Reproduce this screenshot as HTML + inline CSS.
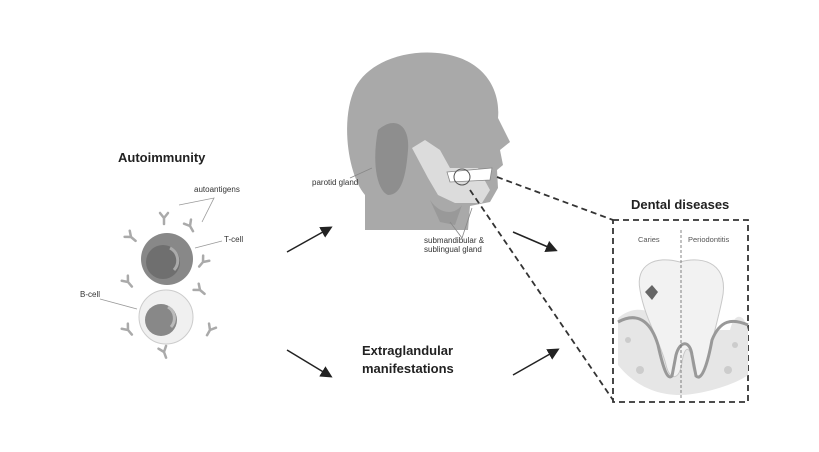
<!DOCTYPE html>
<html><head><style>body{margin:0;background:#fff}svg{display:block}</style></head><body>
<svg width="819" height="452" viewBox="0 0 819 452" xmlns="http://www.w3.org/2000/svg" font-family="Liberation Sans, sans-serif">
<defs>
<marker id="ah" markerWidth="8" markerHeight="8" refX="6" refY="4" orient="auto"><path d="M0,0 L8,4 L0,8 Z" fill="#222"/></marker>
<g id="ab" stroke="#aaa" stroke-width="2.5" fill="none" stroke-linecap="round"><path d="M0,6 L0,0 M0,0 L-4,-5 M0,0 L4,-5"/></g>
</defs>
<text x="118" y="162" font-size="13" font-weight="bold" fill="#222">Autoimmunity</text>
<text x="194" y="192" font-size="8" fill="#333">autoantigens</text>
<path d="M179,205 L214,198 L202,222" stroke="#999" fill="none" stroke-width="0.8"/>
<text x="224" y="242" font-size="8" fill="#333">T-cell</text>
<line x1="195" y1="248" x2="222" y2="241" stroke="#999" stroke-width="0.8"/>
<text x="80" y="297" font-size="8" fill="#333">B-cell</text>
<line x1="100" y1="299" x2="137" y2="309" stroke="#999" stroke-width="0.8"/>
<circle cx="167" cy="259" r="26" fill="#888"/>
<circle cx="163" cy="262" r="17" fill="#6f6f6f"/>
<path d="M170,248 a14,14 0 0 1 4,22" stroke="#aaa" stroke-width="3" fill="none"/>
<circle cx="166" cy="317" r="27" fill="#f0f0f0" stroke="#ccc"/>
<circle cx="161" cy="320" r="16" fill="#888"/>
<path d="M168,307 a13,13 0 0 1 3,20" stroke="#bbb" stroke-width="3" fill="none"/>
<use href="#ab" x="164" y="218"/><use href="#ab" x="190" y="226" transform="rotate(-30 190 226)"/>
<use href="#ab" x="131" y="237" transform="rotate(-50 131 237)"/><use href="#ab" x="203" y="262" transform="rotate(40 203 262)"/>
<use href="#ab" x="128" y="282" transform="rotate(-40 128 282)"/><use href="#ab" x="200" y="290" transform="rotate(-50 200 290)"/>
<use href="#ab" x="128" y="330" transform="rotate(-40 128 330)"/><use href="#ab" x="210" y="330" transform="rotate(30 210 330)"/>
<use href="#ab" x="164" y="352" transform="rotate(-20 164 352)"/>
<!-- head -->
<path d="M365,230 L365,195 C348,175 340,120 355,88 C372,55 425,45 460,58 C492,70 500,98 498,118 L510,142 L500,150 L503,165 L497,170 L498,188 L490,202 L470,206 L468,230 Z" fill="#a9a9a9"/>
<path d="M378,130 C395,115 410,125 408,150 C406,175 402,195 388,195 C376,190 372,160 378,130 Z" fill="#8e8e8e"/>
<path d="M412,148 L425,140 L440,150 L450,168 L478,168 L490,190 L482,203 L455,203 L438,195 L428,178 Z" fill="#dcdcdc"/>
<path d="M447,172 L492,168 L490,180 L450,182 Z" fill="#fff" stroke="#888" stroke-width="0.8"/>
<circle cx="462" cy="177" r="8" fill="none" stroke="#555" stroke-width="1"/>
<path d="M430,200 C440,215 455,215 462,205 L455,225 L440,222 Z" fill="#999"/>
<text x="312" y="185" font-size="8" fill="#333">parotid gland</text>
<line x1="350" y1="178" x2="372" y2="168" stroke="#888" stroke-width="0.8"/>
<text x="424" y="243" font-size="8" fill="#333">submandibular &amp;</text>
<text x="424" y="252" font-size="8" fill="#333">sublingual gland</text>
<path d="M450,222 L462,238 L472,208" stroke="#888" fill="none" stroke-width="0.8"/>
<g stroke="#333" stroke-width="1.8" stroke-dasharray="6,4" fill="none">
<line x1="497" y1="177" x2="613" y2="220"/><line x1="470" y1="190" x2="613" y2="400"/>
<rect x="613" y="220" width="135" height="182"/>
</g>
<g stroke="#222" stroke-width="1.5" marker-end="url(#ah)">
<line x1="287" y1="252" x2="330" y2="228"/><line x1="287" y1="350" x2="330" y2="376"/>
<line x1="513" y1="232" x2="555" y2="250"/><line x1="513" y1="375" x2="557" y2="350"/>
</g>
<text x="362" y="355" font-size="13" font-weight="bold" fill="#222">Extraglandular</text>
<text x="362" y="373" font-size="13" font-weight="bold" fill="#222">manifestations</text>
<text x="631" y="209" font-size="13" font-weight="bold" fill="#222">Dental diseases</text>
<text x="638" y="242" font-size="7.5" fill="#555">Caries</text>
<text x="688" y="242" font-size="7.5" fill="#555">Periodontitis</text>
<!-- tooth -->
<path d="M618,318 C640,300 660,315 670,330 L730,330 C735,310 745,315 748,330 L748,375 C735,385 700,395 680,395 C650,395 630,380 618,365 Z" fill="#e6e6e6"/>
<path d="M640,290 C635,265 655,255 680,262 C705,255 730,265 722,300 C718,320 712,340 705,370 C700,382 694,378 692,362 C690,345 685,345 682,362 C680,380 670,382 666,365 C660,340 645,320 640,290 Z" fill="#f2f2f2" stroke="#c8c8c8"/>
<path d="M618,322 C640,310 652,325 658,345 C664,372 668,380 672,376 L676,355 C680,340 690,340 692,355 L696,376 C702,382 708,362 712,340 C720,320 732,318 748,325" fill="none" stroke="#999" stroke-width="3"/>
<path d="M645,292 L652,285 L658,292 L652,300 Z" fill="#666"/>
<circle cx="628" cy="340" r="3" fill="#ccc"/><circle cx="640" cy="370" r="4" fill="#ccc"/><circle cx="735" cy="345" r="3" fill="#ccc"/><circle cx="728" cy="370" r="4" fill="#ccc"/>
<line x1="681" y1="230" x2="681" y2="400" stroke="#666" stroke-width="0.8" stroke-dasharray="3,2"/>
</svg>
</body></html>
